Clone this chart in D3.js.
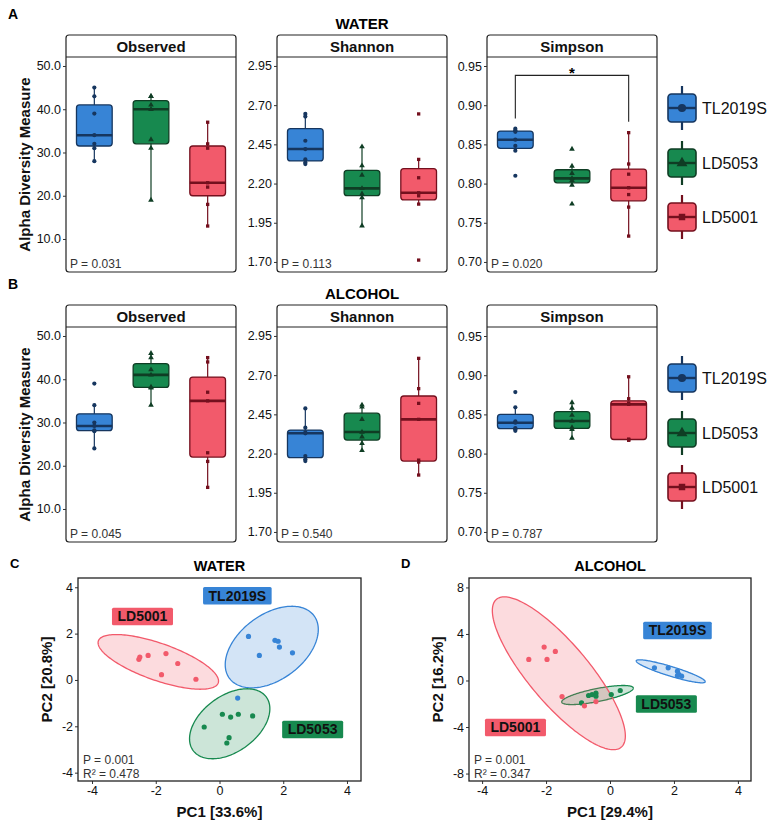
<!DOCTYPE html>
<html>
<head>
<meta charset="utf-8">
<title>Alpha and beta diversity</title>
<script src="https://cdn.jsdelivr.net/npm/d3@7"></script>
<style>
  body { margin: 0; background: #fff; }
  svg { font-family: Arial, "Liberation Sans", Helvetica, sans-serif; }
</style>
</head>
<body>
<svg id="chart" width="767" height="824"></svg>
<script>
const groups = ["TL2019S", "LD5053", "LD5001"];
const metrics = ["Observed", "Shannon", "Simpson"];

// alpha diversity per sample, one array per group (TL2019S, LD5053, LD5001)
const waterObserved = [[45, 43, 39, 34, 32, 31, 28], [43, 43, 41, 40, 33, 31, 19], [37, 32, 31, 23, 22, 18, 13]];
const waterShannon = [[2.644, 2.627, 2.473, 2.42, 2.354, 2.335, 2.324], [2.435, 2.314, 2.254, 2.169, 2.135, 2.11, 1.931], [2.644, 2.354, 2.237, 2.141, 2.122, 2.069, 1.712]];
const waterSimpson = [[0.870, 0.868, 0.866, 0.856, 0.848, 0.842, 0.810], [0.844, 0.8223, 0.813, 0.8066, 0.804, 0.798, 0.774], [0.865, 0.825, 0.812, 0.7947, 0.786, 0.770, 0.733]];
const alcoholObserved = [[39, 34, 30, 29.2, 28.2, 28, 24], [46, 45, 42.2, 41, 38.2, 38, 34], [45, 44, 37, 35, 23, 21, 15]];
const alcoholShannon = [[2.488, 2.365, 2.335, 2.329, 2.184, 2.163, 2.152], [2.51, 2.497, 2.418, 2.337, 2.307, 2.265, 2.22], [2.807, 2.614, 2.52, 2.418, 2.158, 2.146, 2.063]];
const alcoholSimpson = [[0.8785, 0.859, 0.841, 0.8394, 0.8325, 0.831, 0.829], [0.865, 0.858, 0.849, 0.8415, 0.8332, 0.831, 0.8198], [0.898, 0.870, 0.8645, 0.8628, 0.8185, 0.8175, 0.817]];

const observedTicks = [10, 20, 30, 40, 50];
const shannonTicks = [1.70, 1.95, 2.20, 2.45, 2.70, 2.95];
const simpsonTicks = [0.70, 0.75, 0.80, 0.85, 0.90, 0.95];
const observedDomain = [2.37, 52.08];
const shannonDomain = [1.636, 3.007];
const simpsonDomain = [0.6872, 0.9615];

const waterP = ["0.031", "0.113", "0.020"];
const alcoholP = ["0.045", "0.540", "0.787"];

// Wilcoxon bracket on water / Simpson
const sigPair = ["TL2019S", "LD5001"];
const sigLevels = [0.883, 0.938, 0.879];

// PCoA coordinates [PC1, PC2]
const waterTL2019S = [[0.91, 1.88], [1.74, 1.71], [1.84, 1.67], [1.88, 1.42], [1.25, 1.06], [2.29, 1.17], [0.57, -0.78]];
const waterLD5053 = [[-0.48, -2.03], [0.09, -1.48], [0.35, -1.60], [0.59, -1.48], [1.04, -1.55], [0.30, -2.49], [0.23, -2.72]];
const waterLD5001 = [[-2.53, 0.89], [-2.50, 0.99], [-2.24, 1.06], [-1.68, 1.14], [-1.31, 0.71], [-1.82, 0.23], [-0.74, 0.03]];
const alcoholTL2019S = [[1.39, 1.09], [1.82, 1.09], [2.11, 0.80], [2.15, 0.52], [2.24, 0.37], [2.11, 0.43]];
const alcoholLD5053 = [[-0.89, -1.93], [-0.67, -1.29], [-0.56, -1.21], [-0.44, -1.09], [-0.44, -1.35], [0.04, -1.21], [0.32, -0.86]];
const alcoholLD5001 = [[-2.54, 1.81], [-2.06, 2.87], [-1.71, 2.50], [-1.97, 1.81], [-1.50, -1.38], [-0.80, -2.18], [-0.44, -1.81]];

// ellipse: centre x, centre y, half-range x, half-range y, correlation
const waterEllipses = [[1.64, 1.42, 1.46, 1.76, 0.43], [0.32, -1.89, 1.26, 1.51, 0.43], [-1.92, 0.78, 1.89, 1.18, -0.70]];
const alcoholEllipses = [[1.90, 0.79, 1.08, 0.99, -0.90], [-0.39, -1.25, 1.12, 0.82, 0.72], [-1.60, 0.62, 2.08, 6.57, -0.82]];
const waterLabels = [[0.56, 3.64], [2.92, -2.13], [-2.42, 2.75]];
const alcoholLabels = [[2.11, 4.31], [1.76, -2.01], [-2.96, -4.02]];

const waterPcTicks = [-4, -2, 0, 2, 4];
const alcoholPcTicksY = [-8, -4, 0, 4, 8];
const waterStats = ["P = 0.001", "R\u00B2 = 0.478"];
const alcoholStats = ["P = 0.001", "R\u00B2 = 0.347"];

const fills = ["#3784d6", "#17894f", "#f25a6b"];
const darks = ["#16365f", "#0f3d24", "#74101e"];
const shapes = [d3.symbolCircle, d3.symbolTriangle, d3.symbolSquare];

const svg = d3.select("#chart");
const facetLeft = [66, 277, 487], facetW = 170;
const rowTop = [35, 305], stripH = 22, plotH = 215;

function boxFacet(row, col, vals, ticks, domain, fmt, pval) {
    const x0 = facetLeft[col], top = rowTop[row], bottom = top + stripH + plotH;
    const g = svg.append("g");
    const y = d3.scaleLinear().domain(domain).range([bottom, top + stripH]);
    const x = d3.scalePoint().domain(groups).range([x0, x0 + facetW]).padding(0.5);
    const w = x.step() * 0.63;

    g.append("rect").attr("x", x0).attr("y", top).attr("width", facetW).attr("height", stripH + plotH)
        .attr("rx", 3).attr("fill", "#fff").attr("stroke", "#222").attr("stroke-width", 1.2);
    g.append("line").attr("x1", x0).attr("x2", x0 + facetW).attr("y1", top + stripH).attr("y2", top + stripH)
        .attr("stroke", "#222").attr("stroke-width", 1.2);
    g.append("text").attr("x", x0 + facetW / 2).attr("y", top + stripH - 5.5).attr("text-anchor", "middle")
        .attr("font-size", 15).attr("font-weight", "bold").attr("fill", "#111").text(metrics[col]);

    const ax = g.append("g").attr("transform", `translate(${x0},0)`)
        .call(d3.axisLeft(y).tickValues(ticks).tickFormat(fmt).tickSize(3).tickPadding(2));
    ax.select(".domain").remove();
    ax.selectAll("line").attr("stroke", "#333");
    ax.selectAll("text").attr("font-size", 12.5).attr("fill", "#111").attr("font-family", "Arial, 'Liberation Sans', sans-serif");

    vals.forEach((v, i) => {
        const s = v.slice().sort(d3.ascending);
        const q1 = d3.quantile(s, 0.25), med = d3.quantile(s, 0.5), q3 = d3.quantile(s, 0.75);
        const iqr = q3 - q1;
        const lo = d3.min(s.filter(d => d >= q1 - 1.5 * iqr));
        const hi = d3.max(s.filter(d => d <= q3 + 1.5 * iqr));
        const cx = x(groups[i]);
        g.append("line").attr("x1", cx).attr("x2", cx).attr("y1", y(hi)).attr("y2", y(lo))
            .attr("stroke", darks[i]).attr("stroke-width", 1.2);
        g.append("rect").attr("x", cx - w / 2).attr("y", y(q3)).attr("width", w).attr("height", y(q1) - y(q3))
            .attr("rx", 3).attr("fill", fills[i]).attr("stroke", darks[i]).attr("stroke-width", 1.3);
        g.append("line").attr("x1", cx - w / 2).attr("x2", cx + w / 2).attr("y1", y(med)).attr("y2", y(med))
            .attr("stroke", darks[i]).attr("stroke-width", 2.6);
        g.selectAll(null).data(v).enter().append("path")
            .attr("d", d3.symbol().type(shapes[i]).size(i === 2 ? 11 : 14))
            .attr("transform", d => `translate(${cx},${y(d)})`)
            .attr("fill", darks[i]);
    });

    g.append("text").attr("x", x0 + 4).attr("y", bottom - 4.5).attr("font-size", 12).attr("fill", "#333")
        .text("P = " + pval);
    return { x, y };
}

function legend(top) {
    const rows = [top + 73, top + 128, top + 182];
    groups.forEach((name, i) => {
        const cy = rows[i], cx = 682;
        const g = svg.append("g");
        g.append("line").attr("x1", cx).attr("x2", cx).attr("y1", cy - 22).attr("y2", cy + 22)
            .attr("stroke", darks[i]).attr("stroke-width", 2.2);
        g.append("rect").attr("x", cx - 14).attr("y", cy - 14).attr("width", 28).attr("height", 28)
            .attr("rx", 3.5).attr("fill", fills[i]).attr("stroke", darks[i]).attr("stroke-width", 1.6);
        g.append("line").attr("x1", cx - 14).attr("x2", cx + 14).attr("y1", cy).attr("y2", cy)
            .attr("stroke", darks[i]).attr("stroke-width", 2.4);
        g.append("path").attr("d", d3.symbol().type(shapes[i]).size(i === 2 ? 42 : 52))
            .attr("transform", `translate(${cx},${cy})`).attr("fill", darks[i]);
        g.append("text").attr("x", 702).attr("y", cy + 6).attr("font-size", 16).attr("fill", "#111").text(name);
    });
}

function alphaRow(row, letter, title, obs, sha, sim, pvals) {
    const top = rowTop[row];
    svg.append("text").attr("x", 8).attr("y", top - 16).attr("font-size", 14).attr("font-weight", "bold").text(letter);
    svg.append("text").attr("x", 362).attr("y", top - 6).attr("text-anchor", "middle")
        .attr("font-size", 15).attr("font-weight", "bold").text(title);
    svg.append("text").attr("transform", `translate(30,${top + stripH + plotH / 2}) rotate(-90)`)
        .attr("text-anchor", "middle").attr("font-size", 15).attr("font-weight", "bold").attr("fill", "#111")
        .text("Alpha Diversity Measure");
    boxFacet(row, 0, obs, observedTicks, observedDomain, d3.format(".1f"), pvals[0]);
    boxFacet(row, 1, sha, shannonTicks, shannonDomain, d3.format(".2f"), pvals[1]);
    const s = boxFacet(row, 2, sim, simpsonTicks, simpsonDomain, d3.format(".2f"), pvals[2]);
    legend(top);
    return s;
}

const simW = alphaRow(0, "A", "WATER", waterObserved, waterShannon, waterSimpson, waterP);
alphaRow(1, "B", "ALCOHOL", alcoholObserved, alcoholShannon, alcoholSimpson, alcoholP);

// significance bracket
const bx1 = simW.x(sigPair[0]), bx2 = simW.x(sigPair[1]);
svg.append("path")
    .attr("d", `M${bx1},${simW.y(sigLevels[0])}V${simW.y(sigLevels[1])}H${bx2}V${simW.y(sigLevels[2])}`)
    .attr("fill", "none").attr("stroke", "#222").attr("stroke-width", 1.1);
svg.append("text").attr("x", (bx1 + bx2) / 2).attr("y", simW.y(sigLevels[1]) + 3).attr("text-anchor", "middle")
    .attr("font-size", 15).attr("font-weight", "bold").text("*");

function pcoa(opt) {
    const { left, right, letter, title, pts, ell, labels, xDomain, yDomain, yTicks, xlab, ylab, stats } = opt;
    const top = 578, bottom = 781;
    const x = d3.scaleLinear().domain(xDomain).range([left, right]);
    const y = d3.scaleLinear().domain(yDomain).range([bottom, top]);
    const g = svg.append("g");

    g.append("text").attr("x", left - 68).attr("y", 568).attr("font-size", 13).attr("font-weight", "bold").text(letter);
    g.append("text").attr("x", (left + right) / 2).attr("y", 571).attr("text-anchor", "middle")
        .attr("font-size", 14.5).attr("font-weight", "bold").text(title);

    const ax = g.append("g").attr("transform", `translate(0,${bottom})`)
        .call(d3.axisBottom(x).tickValues(waterPcTicks).tickFormat(d3.format("d")).tickSize(3).tickPadding(2));
    const ay = g.append("g").attr("transform", `translate(${left},0)`)
        .call(d3.axisLeft(y).tickValues(yTicks).tickFormat(d3.format("d")).tickSize(3).tickPadding(2));
    [ax, ay].forEach(a => {
        a.select(".domain").remove();
        a.selectAll("line").attr("stroke", "#333");
        a.selectAll("text").attr("font-size", 12.5).attr("fill", "#111").attr("font-family", "Arial, 'Liberation Sans', sans-serif")
            .text(d => d3.format("d")(d).replace("\u2212", "-"));
    });

    g.append("text").attr("x", (left + right) / 2).attr("y", 817).attr("text-anchor", "middle")
        .attr("font-size", 15).attr("font-weight", "bold").attr("fill", "#111").text(xlab);
    g.append("text").attr("transform", `translate(${left - 26},${(top + bottom) / 2}) rotate(-90)`)
        .attr("text-anchor", "middle").attr("font-size", 15).attr("font-weight", "bold").attr("fill", "#111").text(ylab);

    const ts = d3.range(0, 2 * Math.PI + 0.001, Math.PI / 90);
    ell.forEach((e, i) => {
        const [cx, cy, sx, sy, r] = e;
        const line = d3.line()
            .x(t => x(cx + sx * Math.cos(t)))
            .y(t => y(cy + sy * (r * Math.cos(t) + Math.sqrt(1 - r * r) * Math.sin(t))));
        g.append("path").attr("d", line(ts)).attr("fill", fills[i]).attr("fill-opacity", 0.22)
            .attr("stroke", fills[i]).attr("stroke-width", 1.3);
    });

    pts.forEach((p, i) => {
        g.selectAll(null).data(p).enter().append("circle")
            .attr("cx", d => x(d[0])).attr("cy", d => y(d[1])).attr("r", 2.6).attr("fill", fills[i]);
    });

    labels.forEach((l, i) => {
        const t = g.append("text").attr("x", x(l[0])).attr("y", y(l[1]) + 5).attr("text-anchor", "middle")
            .attr("font-size", 14).attr("font-weight", "bold").attr("fill", "#111").text(groups[i]);
        const bb = t.node().getBBox();
        g.insert("rect", () => t.node()).attr("x", bb.x - 5.5).attr("y", y(l[1]) - 8.5)
            .attr("width", bb.width + 11).attr("height", 17.5).attr("rx", 1.5).attr("fill", fills[i]);
    });

    g.append("text").attr("x", left + 5).attr("y", 764).attr("font-size", 12).attr("fill", "#333").text(stats[0]);
    g.append("text").attr("x", left + 5).attr("y", 778).attr("font-size", 12).attr("fill", "#333").text(stats[1]);

    g.append("rect").attr("x", left).attr("y", top).attr("width", right - left).attr("height", bottom - top)
        .attr("fill", "none").attr("stroke", "#222").attr("stroke-width", 1.3);
}

pcoa({
    left: 78, right: 361, letter: "C", title: "WATER",
    pts: [waterTL2019S, waterLD5053, waterLD5001], ell: waterEllipses, labels: waterLabels,
    xDomain: [-4.44, 4.44], yDomain: [-4.36, 4.40], yTicks: waterPcTicks,
    xlab: "PC1 [33.6%]", ylab: "PC2 [20.8%]", stats: waterStats
});
pcoa({
    left: 469, right: 751, letter: "D", title: "ALCOHOL",
    pts: [alcoholTL2019S, alcoholLD5053, alcoholLD5001], ell: alcoholEllipses, labels: alcoholLabels,
    xDomain: [-4.41, 4.41], yDomain: [-8.64, 8.81], yTicks: alcoholPcTicksY,
    xlab: "PC1 [29.4%]", ylab: "PC2 [16.2%]", stats: alcoholStats
});
</script>
</body>
</html>
